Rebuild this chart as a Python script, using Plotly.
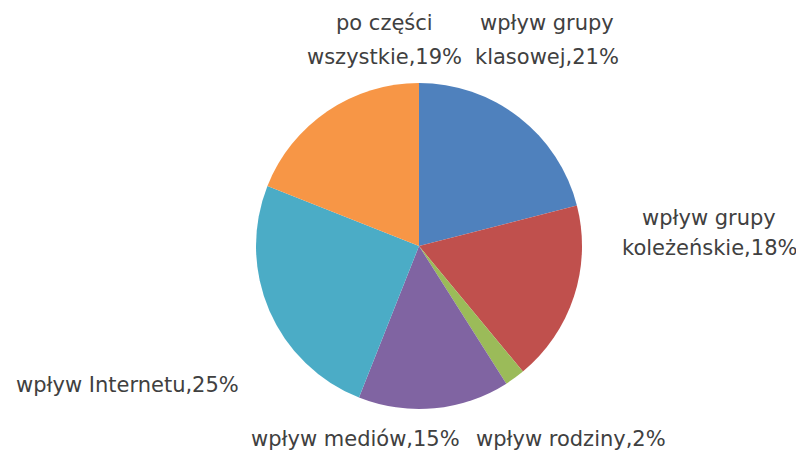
import plotly.graph_objects as go

labels = ["wpływ grupy klasowej", "wpływ grupy koleżeńskie", "wpływ rodziny",
          "wpływ mediów", "wpływ Internetu", "po części wszystkie"]
label_lines = [["wpływ grupy", "klasowej"], ["wpływ grupy", "koleżeńskie"], ["wpływ rodziny"],
               ["wpływ mediów"], ["wpływ Internetu"], ["po części", "wszystkie"]]
values = [21, 18, 2, 15, 25, 19]
colors = ["#4F81BD", "#C0504D", "#9BBB59", "#8064A2", "#4BACC6", "#F79646"]

OFF = 8  # default page body margin
W, H = 804 - OFF, 455 - OFF
cx, cy, r = 419 - OFF, 246 - OFF, 163
# label box centres in page pixels and line spacing (layout only)
label_pos = [(547, 40), (709, 233), (571, 439), (355, 439), (127, 385), (384, 40)]
line_gaps = [34, 30, 0, 0, 0, 34]

fig = go.Figure(go.Pie(
    labels=labels, values=values, sort=False, direction="clockwise", rotation=0,
    marker=dict(colors=colors, line=dict(width=0)),
    textinfo="none", showlegend=False, hoverinfo="label+value",
    domain=dict(x=[(cx - r) / W, (cx + r) / W], y=[(H - cy - r) / H, (H - cy + r) / H]),
))

for lines, v, (px, py), gap in zip(label_lines, values, label_pos, line_gaps):
    texts = lines[:-1] + [f"{lines[-1]},{v}%"]
    n = len(texts)
    for i, t in enumerate(texts):
        yy = py - OFF + (i - (n - 1) / 2) * gap
        fig.add_annotation(x=(px - OFF) / W, y=1 - yy / H, xref="paper", yref="paper",
                           text=t, showarrow=False, xanchor="center", yanchor="middle",
                           font=dict(family="DejaVu Sans", size=21, color="#404040"))

fig.update_layout(width=W, height=H, margin=dict(l=0, r=0, t=0, b=0),
                  paper_bgcolor="white", plot_bgcolor="white")
fig.write_html("out.html")
